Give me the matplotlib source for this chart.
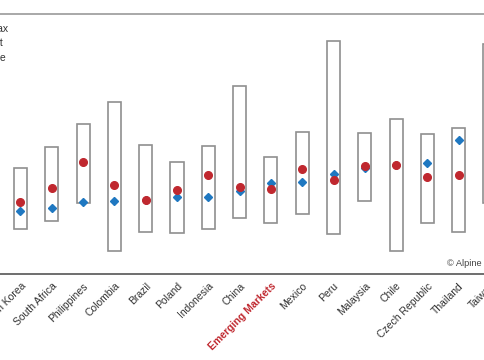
import matplotlib
matplotlib.use('Agg')
import matplotlib.pyplot as plt
from matplotlib.patches import Patch
from matplotlib.lines import Line2D

plt.rcParams['font.family'] = ['Liberation Sans', 'DejaVu Sans']

# 数据
countries = ['South Korea', 'South Africa', 'Philippines', 'Colombia', 'Brazil', 'Poland',
             'Indonesia', 'China', 'Emerging Markets', 'Mexico', 'Peru', 'Malaysia',
             'Chile', 'Czech Republic', 'Thailand', 'Taiwan']
max_vals = [10.6, 12.7, 15.0, 17.2, 12.9, 11.2, 12.8, 18.8, 11.7, 14.2, 23.3, 14.1, 15.5, 14.0, 14.6, 23.0]
min_vals = [4.5, 5.3, 7.1, 2.3, 4.2, 4.1, 4.5, 5.6, 5.1, 6.0, 4.0, 7.3, 2.3, 5.1, 4.2, 7.1]
current = [6.3, 6.6, 7.2, 7.3, 7.4, 7.7, 7.7, 8.3, 9.1, 9.2, 10.0, 10.6, 10.9, 11.1, 13.4, 17.5]
average = [7.2, 8.6, 11.2, 8.9, 7.4, 8.4, 9.9, 8.7, 8.5, 10.5, 9.4, 10.8, 10.9, 9.7, 9.9, 13.5]

red = '#c0282f'
blue = '#1f78c1'
box_gray = '#8f8f8f'

W, H = 485, 360
fig = plt.figure(figsize=(W / 100, H / 100), dpi=100)

# 坐标轴比画布宽，左右两边被裁掉
x0, x1 = -1.5, 15.6
px0 = 20.5 + 31.3 * x0
px1 = 20.5 + 31.3 * x1
ax = fig.add_axes([px0 / W, 1 - 274 / H, (px1 - px0) / W, 260 / H])

x = list(range(len(countries)))
heights = [a - b for a, b in zip(max_vals, min_vals)]
ax.bar(x, heights, bottom=min_vals, width=0.42, color='white',
       edgecolor=box_gray, linewidth=1.2, zorder=2)
ax.plot(x, current, linestyle='none', marker='D', markersize=4.2, color=blue, zorder=3)
ax.plot(x, average, linestyle='none', marker='o', markersize=5.5, color=red, zorder=4)

ax.set_xlim(x0, x1)
ax.set_ylim(0, 26)
ax.set_yticks([])
ax.set_xticks(x)
ax.set_xticklabels(countries, rotation=45, ha='right', rotation_mode='anchor',
                   fontsize=7.5, color='#333333')
ax.tick_params(axis='x', length=0, pad=5)
for lbl in ax.get_xticklabels():
    if lbl.get_text() == 'Emerging Markets':
        lbl.set_color(red)
        lbl.set_fontweight('bold')

for s in ['left', 'right']:
    ax.spines[s].set_visible(False)
ax.spines['top'].set_color('#9a9a9a')
ax.spines['bottom'].set_color('#555555')
ax.spines['top'].set_linewidth(1.2)
ax.spines['bottom'].set_linewidth(1.2)

# 图例
handles = [Patch(facecolor='white', edgecolor=box_gray),
           Line2D([], [], linestyle='none', marker='D', color=blue, markersize=4.2),
           Line2D([], [], linestyle='none', marker='o', color=red, markersize=5.5)]
ax.legend(handles, ['Min-Max', 'Current', 'Average'], loc='upper left',
          bbox_to_anchor=(-65 / W, 1 - 19.5 / H), bbox_transform=fig.transFigure,
          frameon=False, fontsize=7.5, labelspacing=0.45, borderaxespad=0,
          labelcolor='#333333')

ax.text(13.63, 1.0, '\u00a9 Alpine Macro', fontsize=6.7, color='#444444',
        ha='left', va='center')

fig.savefig('out.png', dpi=100)
